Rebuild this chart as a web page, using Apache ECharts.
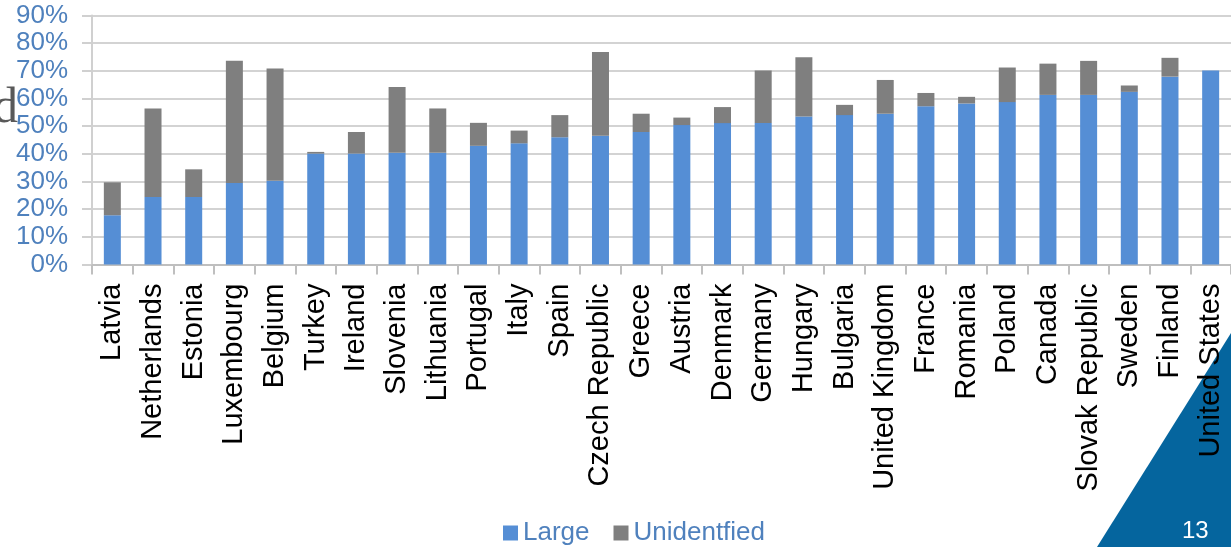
<!DOCTYPE html>
<html>
<head>
<meta charset="utf-8">
<script src="https://cdn.jsdelivr.net/npm/echarts@6/dist/echarts.min.js"></script>
<style>
  html, body { margin: 0; padding: 0; background: #ffffff; overflow: hidden; }
  #chart { width: 1231px; height: 547px; }
</style>
</head>
<body>
<div id="chart"></div>
<script>
// Countries, ordered by the share of "Large"
const categories = [
  'Latvia', 'Netherlands', 'Estonia', 'Luxembourg', 'Belgium', 'Turkey', 'Ireland',
  'Slovenia', 'Lithuania', 'Portugal', 'Italy', 'Spain', 'Czech Republic', 'Greece',
  'Austria', 'Denmark', 'Germany', 'Hungary', 'Bulgaria', 'United Kingdom', 'France',
  'Romania', 'Poland', 'Canada', 'Slovak Republic', 'Sweden', 'Finland', 'United States'
];

// Percent values per country
const largeValues = [
  17.8, 24.4, 24.4, 29.5, 30.3, 40.1, 40.1,
  40.4, 40.4, 42.9, 43.8, 46.0, 46.5, 47.9,
  50.4, 51.1, 51.1, 53.5, 54.0, 54.5, 57.2,
  58.2, 58.7, 61.3, 61.3, 62.4, 67.9, 70.1
];
const unidentifiedValues = [
  11.9, 32.0, 10.0, 44.1, 40.5, 0.6, 7.8,
  23.8, 16.0, 8.3, 4.6, 8.0, 30.3, 6.6,
  2.7, 5.8, 19.0, 21.4, 3.7, 12.2, 4.8,
  2.4, 12.5, 11.3, 12.3, 2.3, 6.8, 0
];

const seriesNames = ['Large', 'Unidentfied'];
const yTicks = { min: 0, max: 90, interval: 10 };

const FONT = '"Liberation Sans", Arial, sans-serif';
const LABEL_BLUE = '#4F81BD';

const chart = echarts.init(document.getElementById('chart'), null, { renderer: 'canvas' });

chart.setOption({
  animation: false,
  backgroundColor: '#ffffff',
  grid: { left: 92, top: 15.5, width: 1141, height: 249, containLabel: false },
  legend: {
    data: seriesNames,
    left: 503,
    top: 520,
    padding: 0,
    icon: 'rect',
    itemWidth: 15,
    itemHeight: 15,
    itemGap: 24,
    textStyle: { fontFamily: FONT, fontSize: 26, color: LABEL_BLUE, padding: [0, 0, 0, 0] }
  },
  xAxis: {
    type: 'category',
    data: categories,
    boundaryGap: true,
    axisLine: { show: true, lineStyle: { color: '#BFBFBF', width: 2 } },
    axisTick: { show: true, length: 10, alignWithLabel: false, lineStyle: { color: '#BFBFBF', width: 2 } },
    axisLabel: {
      interval: 0,
      rotate: 90,
      margin: 19,
      fontFamily: FONT,
      fontSize: 29,
      color: '#000000'
    },
    splitLine: { show: false }
  },
  yAxis: {
    type: 'value',
    min: yTicks.min,
    max: yTicks.max,
    interval: yTicks.interval,
    axisLine: { show: true, lineStyle: { color: '#D0D0D0', width: 2 } },
    axisTick: { show: true, length: 10, lineStyle: { color: '#D0D0D0', width: 2 } },
    axisLabel: {
      formatter: '{value}%',
      margin: 24,
      fontFamily: FONT,
      fontSize: 26,
      color: LABEL_BLUE
    },
    splitLine: { show: true, lineStyle: { color: '#D3D3D3', width: 2 } }
  },
  series: [
    {
      name: seriesNames[0],
      type: 'bar',
      stack: 'share',
      barWidth: 17,
      data: largeValues,
      itemStyle: { color: '#558ED5' }
    },
    {
      name: seriesNames[1],
      type: 'bar',
      stack: 'share',
      barWidth: 17,
      data: unidentifiedValues,
      itemStyle: { color: '#7F7F7F' }
    }
  ],
  graphic: [
    {
      // slide corner decoration behind the chart
      type: 'polygon',
      z: -10,
      silent: true,
      shape: { points: [[1097, 547], [1231, 333], [1231, 547]] },
      style: { fill: '#05659E' }
    },
    {
      type: 'text',
      z: 100,
      silent: true,
      left: 1182,
      top: 519,
      style: { text: '13', fill: '#ffffff', font: '24px "Liberation Sans", Arial, sans-serif' }
    },
    {
      // trailing letter of the slide heading
      type: 'text',
      z: 100,
      silent: true,
      x: 18,
      y: 84,
      style: {
        text: 'd',
        fill: '#595959',
        align: 'right',
        verticalAlign: 'alphabetic',
        font: '50px "Liberation Serif", "Times New Roman", serif'
      }
    }
  ]
});
</script>
</body>
</html>
